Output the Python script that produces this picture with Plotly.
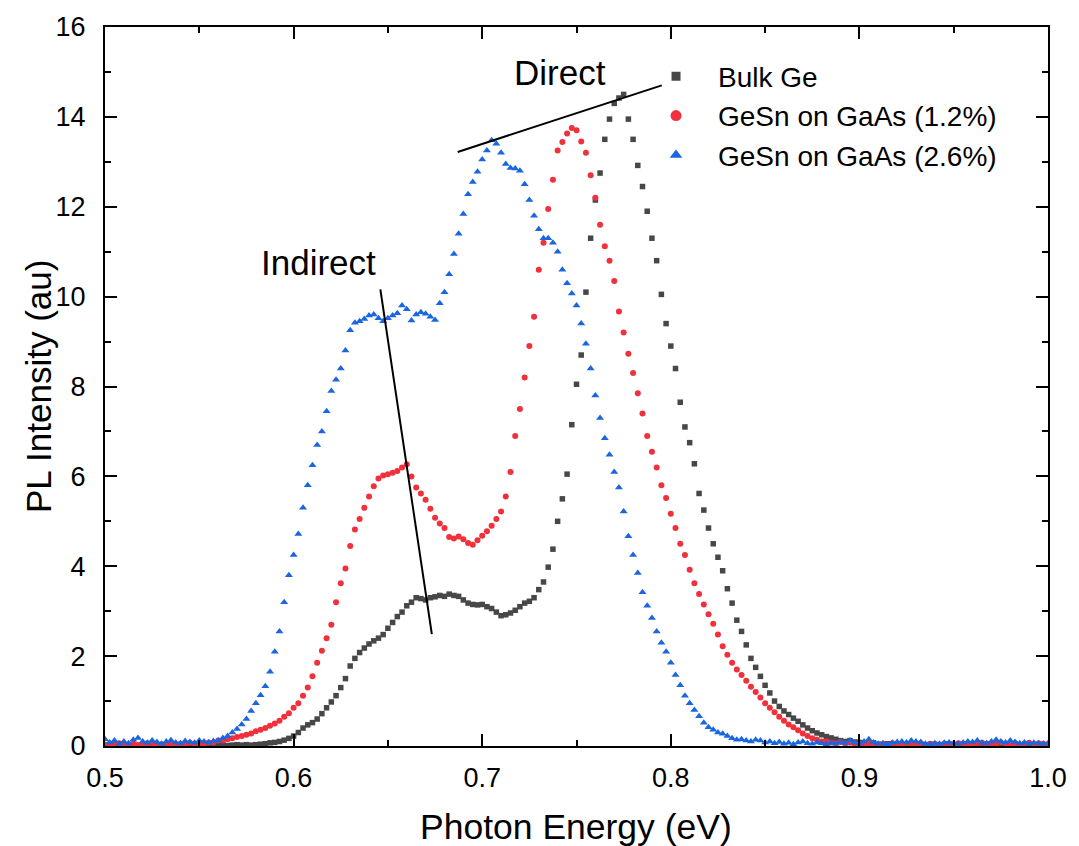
import plotly.graph_objects as go

# Photon energy grid (eV), 0.5 to 1.0 in 0.0025 steps
energy = [round(0.5 + 0.0025 * i, 4) for i in range(201)]

bulk_ge = [
    0.02, 0.01, 0.03, 0.02, 0.01, 0.02, 0.03, 0.01, 0.02, 0.02,
    0.01, 0.03, 0.02, 0.01, 0.02, 0.03, 0.02, 0.01, 0.02, 0.03,
    0.02, 0.01, 0.03, 0.02, 0.02, 0.03, 0.01, 0.02, 0.03, 0.02,
    0.03, 0.02, 0.03, 0.04, 0.05, 0.07, 0.08, 0.10, 0.13, 0.17,
    0.22, 0.30, 0.40, 0.47, 0.52, 0.60, 0.72, 0.85, 0.98, 1.12,
    1.30, 1.50, 1.78, 1.95, 2.08, 2.18, 2.27, 2.34, 2.40, 2.48,
    2.62, 2.75, 2.88, 2.98, 3.12, 3.20, 3.30, 3.28, 3.25, 3.30,
    3.32, 3.35, 3.33, 3.38, 3.35, 3.33, 3.25, 3.18, 3.15, 3.14,
    3.15, 3.10, 3.06, 2.98, 2.90, 2.92, 2.96, 3.02, 3.10, 3.18,
    3.22, 3.30, 3.48, 3.65, 3.98, 4.38, 5.00, 5.50, 6.05, 7.15,
    8.05, 8.70, 10.10, 11.30, 12.15, 12.75, 13.50, 13.95, 14.30, 14.42,
    14.50, 13.95, 13.50, 12.92, 12.45, 11.90, 11.30, 10.80, 10.05, 9.40,
    8.90, 8.40, 7.65, 7.10, 6.75, 6.28, 5.62, 5.25, 4.85, 4.50,
    4.20, 3.90, 3.50, 3.18, 2.80, 2.55, 2.25, 1.95, 1.75, 1.55,
    1.35, 1.18, 1.00, 0.88, 0.78, 0.70, 0.62, 0.55, 0.47, 0.40,
    0.34, 0.29, 0.25, 0.21, 0.18, 0.15, 0.12, 0.10, 0.12, 0.09,
    0.08, 0.06, 0.05, 0.07, 0.04, 0.03, 0.05, 0.02, 0.04, 0.03,
    0.02, 0.04, 0.03, 0.05, 0.02, 0.03, 0.04, 0.02, 0.03, 0.05,
    0.03, 0.02, 0.04, 0.03, 0.05, 0.02, 0.03, 0.04, 0.02, 0.03,
    0.04, 0.02, 0.03, 0.05, 0.02, 0.03, 0.04, 0.02, 0.03, 0.02,
    0.03,
]

gesn_12 = [
    0.03, 0.05, 0.02, 0.06, 0.04, 0.03, 0.05, 0.02, 0.04, 0.06,
    0.03, 0.05, 0.04, 0.02, 0.06, 0.03, 0.05, 0.04, 0.07, 0.05,
    0.06, 0.05, 0.08, 0.08, 0.12, 0.12, 0.15, 0.17, 0.20, 0.22,
    0.25, 0.28, 0.33, 0.36, 0.40, 0.45, 0.50, 0.56, 0.65, 0.73,
    0.85, 0.95, 1.12, 1.30, 1.55, 1.85, 2.12, 2.40, 2.70, 3.20,
    3.62, 3.95, 4.45, 4.82, 5.05, 5.30, 5.55, 5.78, 5.95, 6.02,
    6.05, 6.08, 6.12, 6.20, 6.27, 6.00, 5.75, 5.62, 5.48, 5.28,
    5.08, 4.95, 4.85, 4.65, 4.62, 4.66, 4.60, 4.52, 4.48, 4.58,
    4.68, 4.78, 4.90, 5.05, 5.22, 5.55, 6.10, 6.90, 7.50, 8.20,
    8.90, 9.55, 10.60, 11.20, 11.95, 12.60, 13.25, 13.44, 13.63, 13.75,
    13.70, 13.45, 13.20, 12.70, 12.20, 11.60, 11.12, 10.80, 10.35, 9.67,
    9.20, 8.73, 8.30, 7.85, 7.40, 6.90, 6.55, 6.20, 5.80, 5.52,
    5.17, 4.85, 4.50, 4.25, 3.92, 3.62, 3.38, 3.15, 2.93, 2.72,
    2.48, 2.22, 2.03, 1.85, 1.70, 1.58, 1.45, 1.32, 1.20, 1.08,
    0.95, 0.85, 0.75, 0.65, 0.56, 0.48, 0.42, 0.35, 0.28, 0.22,
    0.17, 0.14, 0.10, 0.10, 0.08, 0.06, 0.09, 0.05, 0.07, 0.04,
    0.05, 0.03, 0.06, 0.04, 0.02, 0.05, 0.03, 0.06, 0.04, 0.03,
    0.05, 0.02, 0.04, 0.06, 0.03, 0.05, 0.04, 0.02, 0.05, 0.03,
    0.04, 0.06, 0.03, 0.05, 0.02, 0.04, 0.07, 0.05, 0.03, 0.06,
    0.08, 0.05, 0.04, 0.06, 0.03, 0.05, 0.07, 0.04, 0.06, 0.05,
    0.04,
]

gesn_26 = [
    0.15, 0.08, 0.12, 0.05, 0.10, 0.06, 0.14, 0.18, 0.10, 0.07,
    0.12, 0.09, 0.05, 0.10, 0.13, 0.08, 0.06, 0.11, 0.09, 0.07,
    0.12, 0.10, 0.08, 0.11, 0.12, 0.18, 0.22, 0.30, 0.38, 0.48,
    0.60, 0.78, 0.95, 1.13, 1.33, 1.65, 2.10, 2.55, 3.20, 3.80,
    4.25, 4.72, 5.30, 5.80, 6.25, 6.70, 7.00, 7.45, 7.90, 8.15,
    8.40, 8.80, 9.25, 9.42, 9.45, 9.50, 9.58, 9.60, 9.52, 9.45,
    9.52, 9.58, 9.63, 9.80, 9.72, 9.47, 9.60, 9.65, 9.62, 9.55,
    9.48, 9.85, 10.10, 10.50, 10.95, 11.40, 11.84, 12.28, 12.55, 12.78,
    13.05, 13.25, 13.48, 13.40, 13.20, 12.95, 12.86, 12.85, 12.80, 12.50,
    12.15, 11.80, 11.50, 11.30, 11.30, 11.20, 11.00, 10.60, 10.30, 10.07,
    9.80, 9.40, 8.95, 8.40, 7.80, 7.30, 6.85, 6.48, 6.10, 5.75,
    5.22, 4.67, 4.25, 3.85, 3.42, 3.12, 2.85, 2.55, 2.30, 2.10,
    1.85, 1.58, 1.35, 1.12, 0.95, 0.80, 0.66, 0.52, 0.42, 0.36,
    0.30, 0.27, 0.22, 0.17, 0.14, 0.15, 0.12, 0.10, 0.14, 0.12,
    0.08, 0.10, 0.06, 0.09, 0.05, 0.07, 0.04, 0.08, 0.10, 0.06,
    0.05, 0.08, 0.06, 0.04, 0.07, 0.05, 0.09, 0.06, 0.12, 0.08,
    0.06, 0.10, 0.15, 0.08, 0.05, 0.06, 0.04, 0.07, 0.09, 0.10,
    0.08, 0.12, 0.10, 0.09, 0.05, 0.04, 0.06, 0.05, 0.07, 0.08,
    0.06, 0.05, 0.08, 0.10, 0.09, 0.12, 0.07, 0.06, 0.10, 0.14,
    0.10, 0.08, 0.12, 0.09, 0.06, 0.08, 0.05, 0.07, 0.06, 0.05,
    0.06,
]

series_names = ["Bulk Ge", "GeSn on GaAs (1.2%)", "GeSn on GaAs (2.6%)"]
series_values = [bulk_ge, gesn_12, gesn_26]
series_colors = ["#474747", "#f2303c", "#1a66e0"]
series_symbols = ["square", "circle", "triangle-up"]
marker_sizes = [5.5, 6, 7]
legend_sizes = [9, 11, 11]

# Guide lines (eV, au) for "Indirect" and "Direct" labels
indirect_line_x = [0.646, 0.6733]
indirect_line_y = [10.16, 2.49]
direct_line_x = [0.687, 0.7952]
direct_line_y = [13.22, 14.70]

x_ticks = [0.5, 0.6, 0.7, 0.8, 0.9, 1.0]
y_ticks = [0, 2, 4, 6, 8, 10, 12, 14, 16]

fig = go.Figure()

for name, vals, col, sym, ms in zip(series_names, series_values, series_colors, series_symbols, marker_sizes):
    fig.add_trace(go.Scatter(
        x=energy, y=vals, mode="markers", name=name, showlegend=False,
        marker=dict(symbol=sym, size=ms, color=col, line=dict(width=0)),
    ))

for name, col, sym, ls in zip(series_names, series_colors, series_symbols, legend_sizes):
    fig.add_trace(go.Scatter(
        x=[None], y=[None], mode="markers", name=name,
        marker=dict(symbol=sym, size=ls, color=col, line=dict(width=0)),
    ))

fig.add_trace(go.Scatter(x=indirect_line_x, y=indirect_line_y, mode="lines",
                         line=dict(color="black", width=2), showlegend=False, hoverinfo="skip"))
fig.add_trace(go.Scatter(x=direct_line_x, y=direct_line_y, mode="lines",
                         line=dict(color="black", width=2), showlegend=False, hoverinfo="skip"))

axis_common = dict(
    showline=True, linecolor="black", linewidth=2, mirror="allticks",
    ticks="inside", ticklen=12, tickwidth=2, tickcolor="black",
    showgrid=False, zeroline=False,
    tickfont=dict(family="Arial", size=27, color="black"),
)

fig.update_xaxes(range=[0.5, 1.0], tickvals=x_ticks, tickformat=".1f",
                 minor=dict(dtick=0.05, ticks="inside", ticklen=6, tickwidth=2, tickcolor="black", showgrid=False),
                 ticklabelstandoff=7, **axis_common)
fig.update_yaxes(range=[0, 16], tickvals=y_ticks,
                 minor=dict(dtick=1, ticks="inside", ticklen=6, tickwidth=2, tickcolor="black", showgrid=False),
                 ticklabelstandoff=12, **axis_common)

fig.add_annotation(x=0.6134, y=10.75, text="Indirect", showarrow=False,
                   xanchor="center", yanchor="middle",
                   font=dict(family="Arial", size=35, color="black"))
fig.add_annotation(x=0.741, y=14.98, text="Direct", showarrow=False,
                   xanchor="center", yanchor="middle",
                   font=dict(family="Arial", size=35, color="black"))

fig.add_annotation(x=0.499, y=-0.113, xref="paper", yref="paper", text="Photon Energy (eV)",
                   xanchor="center", yanchor="middle",
                   showarrow=False, font=dict(family="Arial", size=35.5, color="black"))
fig.add_annotation(x=-0.0704, y=0.5, xref="paper", yref="paper", text="PL Intensity (au)",
                   xanchor="center", yanchor="middle",
                   textangle=-90, showarrow=False, font=dict(family="Arial", size=35, color="black"))

fig.update_layout(
    width=1079, height=846,
    margin=dict(l=105, r=22, t=20, b=100),
    paper_bgcolor="white", plot_bgcolor="white",
    font=dict(family="Arial", color="black"),
    legend=dict(x=0.561, y=0.966, xanchor="left", yanchor="top",
                bgcolor="rgba(0,0,0,0)", borderwidth=0, itemwidth=74,
                font=dict(family="Arial", size=28, color="black"),
                tracegroupgap=0),
)

fig.write_html("out.html")
